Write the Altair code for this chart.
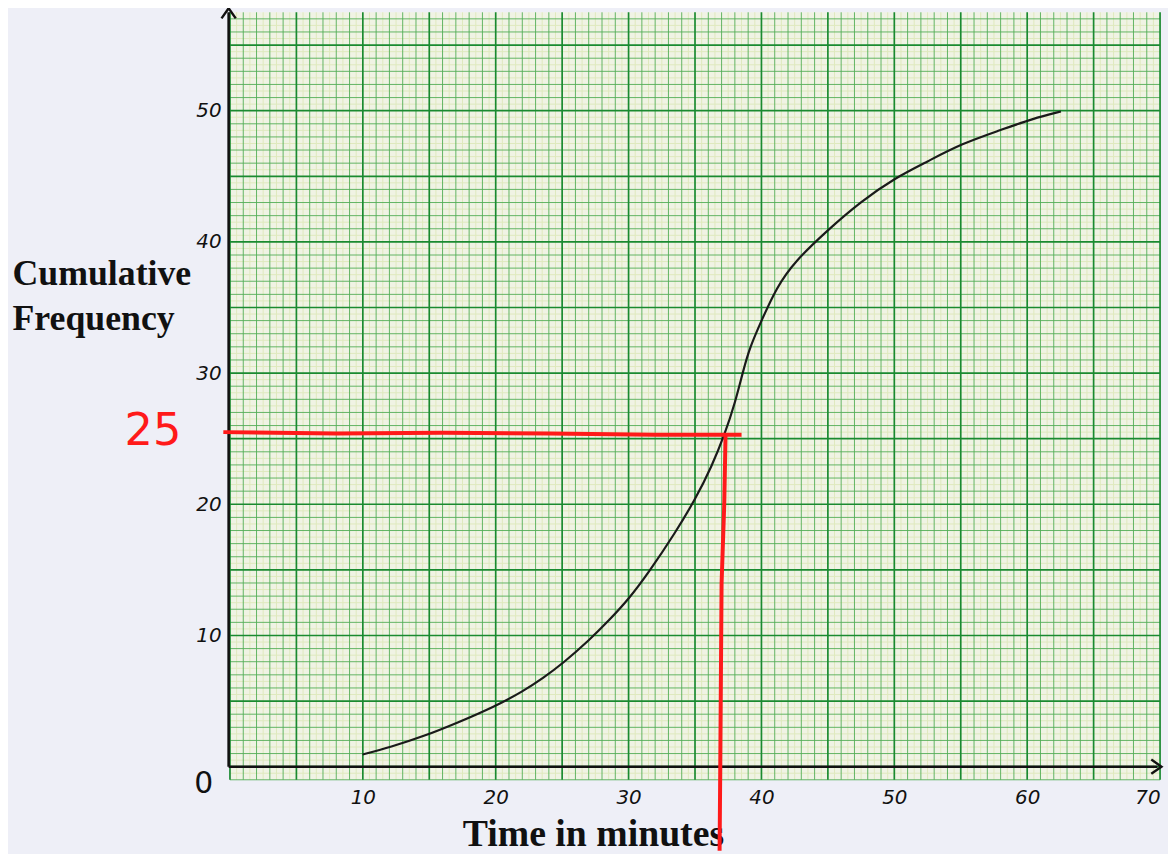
import altair as alt
import numpy as np
import pandas as pd

# ---- data ----
curve_x = [9.98, 12.09, 14.59, 17.08, 19.94, 22.06, 23.56, 25.05, 27.04, 28.53, 30.03,
           31.52, 33.52, 35.01, 36.26, 37.26, 38.0, 38.63, 39.13, 40.0, 41.12, 42.49,
           44.98, 47.47, 50.09, 52.45, 55.1, 57.94, 60.43, 62.54]
curve_y = [0.93, 1.49, 2.32, 3.33, 4.59, 5.75, 6.75, 7.87, 9.64, 11.15, 12.79,
           14.81, 17.84, 20.36, 22.88, 25.41, 27.68, 30.2, 31.97, 33.99, 36.5, 38.5,
           40.9, 43.07, 44.9, 46.1, 47.5, 48.5, 49.4, 49.94]

x_ticks = [10, 20, 30, 40, 50, 60, 70]
y_ticks = [10, 20, 30, 40, 50]

# hand-drawn red construction lines (median reading)
red_h_x = [-0.5, 8, 16, 24, 32, 38.5]
red_h_y = [25.5, 25.4, 25.45, 25.4, 25.3, 25.3]
red_v_x = [37.3, 37.2, 37.0, 36.95, 36.9, 36.85]
red_v_y = [25.4, 20, 14, 7, 0, -6.4]

annot_text = ["25", "0"]
annot_x = [-5.8, -1.98]
annot_y = [25.55, -1.36]
annot_color = ["#ff1a1a", "#111111"]
annot_size = [45, 30]

# ---- frames ----
curve = pd.DataFrame({"t": curve_x, "cf": curve_y})
red_h = pd.DataFrame({"t": red_h_x, "cf": red_h_y, "o": range(len(red_h_x))})
red_v = pd.DataFrame({"t": red_v_x, "cf": red_v_y, "o": range(len(red_v_x))})
annots = pd.DataFrame({"label": annot_text, "t": annot_x, "cf": annot_y,
                       "c": annot_color, "s": annot_size})

# graph-paper grid
fine_v = pd.DataFrame({"g": np.arange(0, 71, 1)})
fine_v = fine_v[fine_v.g % 5 != 0]
bold_v = pd.DataFrame({"g": np.arange(0, 71, 5)})
half_v = pd.DataFrame({"g": np.arange(0.5, 70, 1)})
fine_h = pd.DataFrame({"g": np.arange(-1, 58, 1)})
fine_h = fine_h[fine_h.g % 5 != 0]
bold_h = pd.DataFrame({"g": np.arange(0, 58, 5)})
half_h = pd.DataFrame({"g": np.arange(-0.5, 57.5, 1)})

xscale = alt.Scale(domain=[0, 70], nice=False, zero=False)
yscale = alt.Scale(domain=[-1, 57.5], nice=False, zero=False)

xaxis = alt.Axis(values=x_ticks, grid=False, domain=False, ticks=False,
                 labelFont="DejaVu Sans", labelFontStyle="italic", labelFontSize=20,
                 labelColor="#111111", labelPadding=8, labelOverlap=False, labelFlush=False,
                 labelAlign={"condition": {"test": "datum.value == 70", "value": "right"},
                             "value": "center"},
                 title="Time in minutes", titleFont="Liberation Serif", titleFontWeight="bold",
                 titleFontSize=38, titleColor="#111111", titleX=365.5, titleY=66,
                 titleAlign="center", titleBaseline="alphabetic")
yaxis = alt.Axis(values=y_ticks, grid=False, domain=False, ticks=False,
                 labelFont="DejaVu Sans", labelFontStyle="italic", labelFontSize=20,
                 labelColor="#111111", labelPadding=9, labelOverlap=False, labelFlush=False,
                 title=["Cumulative", "Frequency"], titleAngle=0, titleAlign="left",
                 titleX=-219.5, titleY=274, titleBaseline="alphabetic", titleLineHeight=45,
                 titleFont="Liberation Serif", titleFontWeight="bold", titleFontSize=36,
                 titleColor="#111111")


def X(f):
    return alt.X(f, type="quantitative", scale=xscale, axis=xaxis)


def Y(f):
    return alt.Y(f, type="quantitative", scale=yscale, axis=yaxis)


half_v_l = alt.Chart(half_v).mark_rule(color="#dfe9bd", strokeWidth=1).encode(x=X("g"))
half_h_l = alt.Chart(half_h).mark_rule(color="#dfe9bd", strokeWidth=1).encode(y=Y("g"))
fine_v_l = alt.Chart(fine_v).mark_rule(color="#52ad55", strokeWidth=0.9).encode(x=X("g"))
fine_h_l = alt.Chart(fine_h).mark_rule(color="#52ad55", strokeWidth=0.9).encode(y=Y("g"))
bold_v_l = alt.Chart(bold_v).mark_rule(color="#1a8a30", strokeWidth=1.7).encode(x=X("g"))
bold_h_l = alt.Chart(bold_h).mark_rule(color="#1a8a30", strokeWidth=1.7).encode(y=Y("g"))

curve_l = alt.Chart(curve).mark_line(color="#1a1a1a", strokeWidth=2.2,
                                     interpolate="basis").encode(x=X("t"), y=Y("cf"))

# axis lines with arrow heads
axes_df = pd.DataFrame({"x1": [-0.1, -0.1], "x2": [69.8, -0.1], "y1": [0, 0], "y2": [0, 57.5]})
axes_l = alt.Chart(axes_df).mark_rule(color="#111111", strokeWidth=2.6).encode(
    x=X("x1"), x2="x2", y=Y("y1"), y2="y2")
arrow_df = pd.DataFrame({"x": [69.8, -0.1], "y": [0, 57.5], "a": [90, 0]})
arrow_l = alt.Chart(arrow_df).mark_point(
    shape="M-0.7,0.6L0,-0.4L0.7,0.6", filled=False, color="#111111",
    strokeWidth=2.4, size=420, opacity=1).encode(
    x=X("x"), y=Y("y"), angle=alt.Angle("a:Q", scale=None))

red_h_l = alt.Chart(red_h).mark_line(color="#ff1a1a", strokeWidth=4).encode(
    x=X("t"), y=Y("cf"), order="o:Q")
red_v_l = alt.Chart(red_v).mark_line(color="#ff1a1a", strokeWidth=4).encode(
    x=X("t"), y=Y("cf"), order="o:Q")

annot_l = alt.Chart(annots).mark_text(font="DejaVu Sans", align="center",
                                      baseline="middle").encode(
    x=X("t"), y=Y("cf"), text="label:N", color=alt.Color("c:N", scale=None),
    size=alt.Size("s:Q", scale=None))

chart = alt.layer(
    half_v_l, half_h_l, fine_v_l, fine_h_l, bold_v_l, bold_h_l,
    curve_l, axes_l, arrow_l, red_h_l, red_v_l, annot_l
).properties(
    width=936.5, height=772.8,
    autosize=alt.AutoSizeParams(type="none"),
    padding={"left": 223.5, "top": 1.4, "right": 8, "bottom": 71.8},
    background="#eeeff7",
).configure_view(stroke=None, fill="#f0f3e4")

chart.save("out.html", embed_options={"renderer": "svg", "actions": False})
